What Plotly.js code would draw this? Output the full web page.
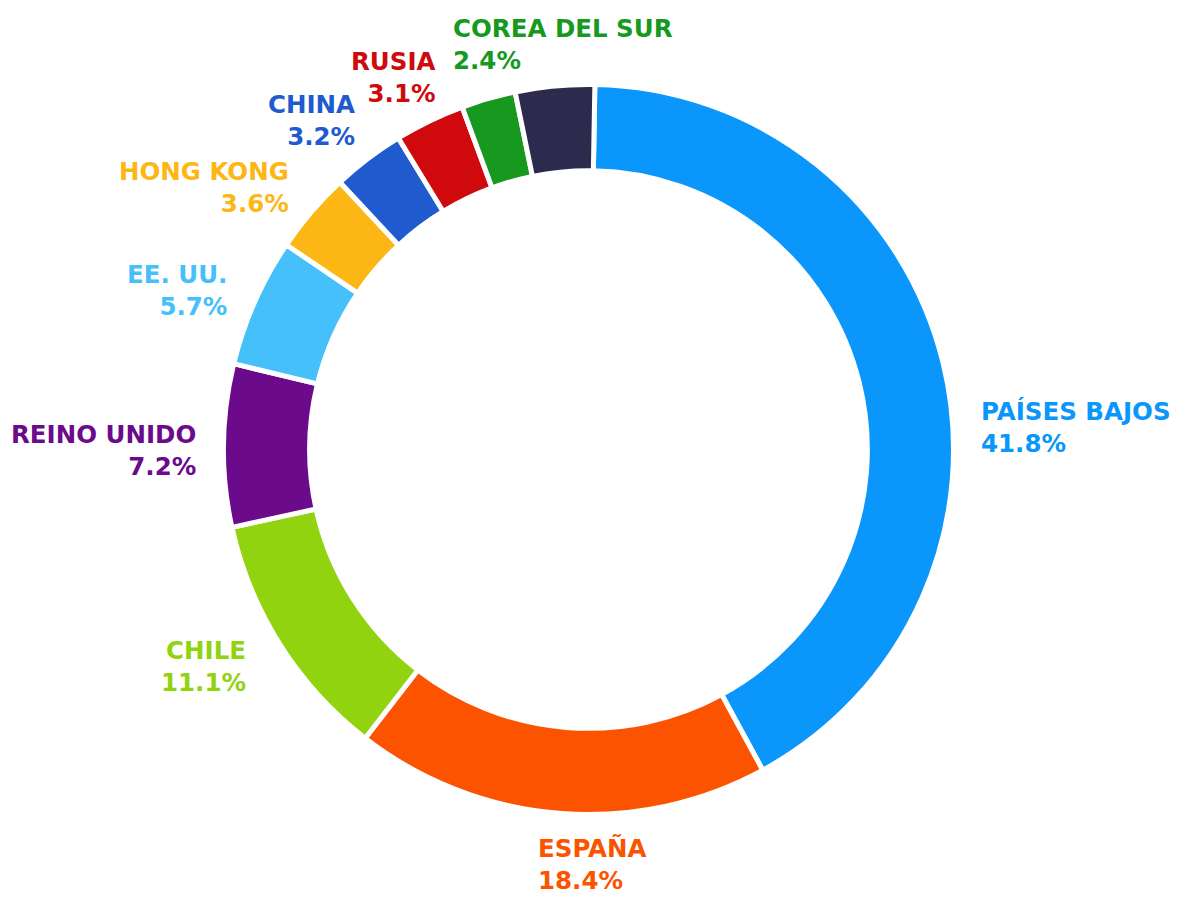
<!DOCTYPE html>
<html>
<head>
<meta charset="utf-8">
<script src="https://cdn.plot.ly/plotly-3.0.1.min.js"></script>
<style>html,body{margin:0;padding:0;background:#fff}#chart{width:1193px;height:898px}</style>
</head>
<body>
<div id="chart"></div>
<script>
// ---- data ----
const countries = ['PAÍSES BAJOS','ESPAÑA','CHILE','REINO UNIDO','EE. UU.','HONG KONG','CHINA','RUSIA','COREA DEL SUR','OTROS'];
const shares    = [41.8, 18.4, 11.1, 7.2, 5.7, 3.6, 3.2, 3.1, 2.4, 3.5];
const showLabel = [true, true, true, true, true, true, true, true, true, false];

// ---- style ----
const colors = ['#0a96fa','#fc5300','#92d30f','#6b0a8b','#45c0fb','#fdb714','#1f5bcf','#d0090d','#16991e','#2c2b4d'];
const W = 1193, H = 898;
const CX = 588.5, CY = 449.5, R = 365;   // ring geometry in px
const ROT = 1;                            // start angle (deg, clockwise from 12 o'clock)
const LABEL_R = 390;                      // base label radius
// per-label anchor side and small nudges (px) for legibility
const labelSide  = ['left','left','right','right','right','right','right','right','left',null];
const labelNudge = [[13,71],[-20,26],[-12,9],[-2,5],[-4,-1],[-2,-8],[3,-18],[18,-21],[-30,-30],[0,0]];

const total = shares.reduce((a,b)=>a+b,0);
const annotations = [];
let cum = 0;
shares.forEach((v,i)=>{
  const mid = (cum + v/2)/total * 2*Math.PI + ROT*Math.PI/180;
  cum += v;
  if(!showLabel[i]) return;
  const px = CX + LABEL_R*Math.sin(mid) + labelNudge[i][0];
  const py = CY - LABEL_R*Math.cos(mid) + labelNudge[i][1];
  annotations.push({
    xref:'paper', yref:'paper', x: px/W, y: 1 - py/H,
    xanchor: labelSide[i], yanchor:'middle', align: labelSide[i],
    showarrow:false, borderpad:0,
    text: countries[i] + '<br>' + v.toFixed(1) + '%',
    font:{family:'DejaVu Sans, Open Sans, Arial, sans-serif', size:24.5, color:colors[i], weight:700}
  });
});

const trace = {
  type:'pie',
  labels: countries,
  values: shares,
  sort:false,
  direction:'clockwise',
  rotation:ROT,
  hole:0.764,
  textinfo:'none',
  hoverinfo:'skip',
  marker:{colors:colors, line:{color:'#ffffff', width:5}},
  domain:{x:[(CX-R)/W,(CX+R)/W], y:[1-(CY+R)/H, 1-(CY-R)/H]}
};

Plotly.newPlot('chart',[trace],{
  width:W, height:H,
  margin:{l:0,r:0,t:0,b:0},
  showlegend:false,
  paper_bgcolor:'#ffffff',
  annotations: annotations
},{displayModeBar:false, staticPlot:true});
</script>
</body>
</html>
